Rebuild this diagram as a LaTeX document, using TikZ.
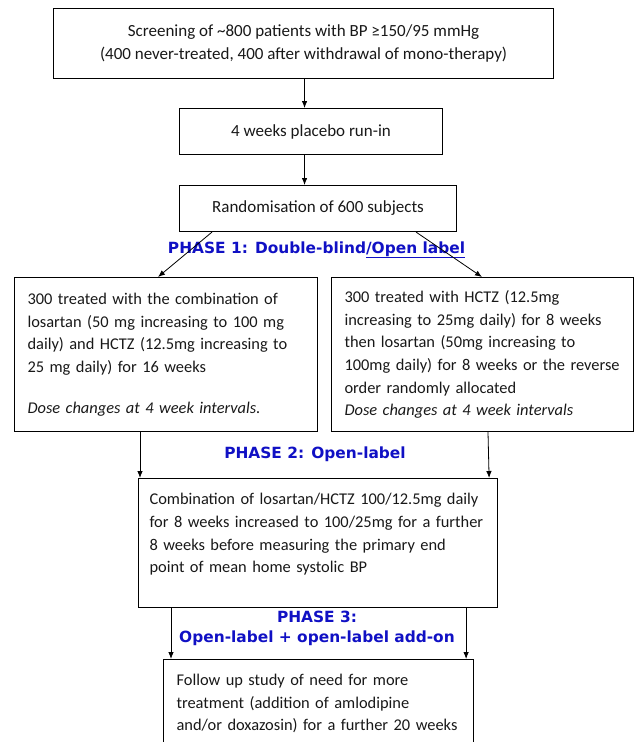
\documentclass[tikz,border=0pt]{standalone}
\usepackage{fontspec}
\setmainfont{Carlito}
\newfontfamily\phasefont{DejaVu Sans}
\usetikzlibrary{arrows.meta}
\usetikzlibrary{positioning}
\definecolor{phaseblue}{RGB}{16,16,196}
\definecolor{boxtext}{RGB}{24,24,24}
\tikzset{flow box/.style={draw,line width=1.1pt,anchor=north west,inner sep=0pt,font=\fontsize{17}{22.7}\selectfont,text=boxtext}}
\tikzset{text box/.style={flow box,align=left,inner xsep=13pt,font=\fontsize{16.4}{22.7}\selectfont}}
\tikzset{phase label/.style={font=\phasefont\bfseries\fontsize{15.4}{20}\selectfont,text=phaseblue,align=center}}
\tikzset{flow arrow/.style={draw,line width=0.8pt,-{Latex[length=7pt,width=5.5pt]}}}

\begin{document}
\begin{tikzpicture}[x=1pt,y=-1pt]
    \useasboundingbox (0,0) rectangle (635,742);
    	\node[flow box,minimum width=500pt,minimum height=70pt,align=center] (screen) at (53,8) {Screening of \textasciitilde800 patients with BP ≥150/95 mmHg\\(400 never-treated, 400 after withdrawal of mono-therapy)};
    	\node[flow box,minimum width=263pt,minimum height=46pt] (runin) at (179,108) {4 weeks placebo run-in};
    	\node[flow box,minimum width=277pt,minimum height=46pt] (rand) at (179,185) {Randomisation of 600 subjects};
    	\node[text box,text width=277pt,minimum height=154pt] (combined) at (14,277) {300 treated with the combination of\\losartan (50 mg increasing to 100 mg\\daily) and HCTZ (12.5mg increasing to\\25 mg daily) for 16 weeks\\[18pt]\textit{Dose changes at 4 week intervals.}};
    	\node[text box,text width=276pt,minimum height=154pt] (sequential) at (331,277) {300 treated with HCTZ (12.5mg\\increasing to 25mg daily) for 8 weeks\\then losartan (50mg increasing to\\100mg daily) for 8 weeks or the reverse\\order randomly allocated\\\textit{Dose changes at 4 week intervals}};
    	\node[text box,inner xsep=11pt,text width=337pt,minimum height=129pt,text depth=88pt] (openlabel) at (138,478) {Combination of losartan/HCTZ 100/12.5mg daily\\for 8 weeks increased to 100/25mg for a further\\8 weeks before measuring the primary end\\point of mean home systolic BP};
    	\node[text box,text width=284pt,minimum height=88pt] (followup) at (163,659) {Follow up study of need for more\\treatment (addition of amlodipine\\and/or doxazosin) for a further 20 weeks};
    
    	\node[phase label,anchor=base] (phaseone) at (316.5,253) {PHASE 1: Double-blind\underline{/Open label}};
    	\node[phase label,anchor=base] (phasetwo) at (315,458) {PHASE 2: Open-label};
    	\node[phase label] (phasethree) at (317,628) {PHASE 3:\\Open-label + open-label add-on};
    
    	\path
    	([xshift=1pt]screen.south) edge[flow arrow] ([xshift=1pt]screen.south |- runin.north)
    	([xshift=1pt]screen.south |- runin.south) edge[flow arrow] ([xshift=1pt]screen.south |- rand.north)
    	([xshift=33pt]rand.south west) edge[flow arrow] ([xshift=144pt]combined.north west)
    	([xshift=-41pt]rand.south east) edge[flow arrow] ([xshift=151pt]sequential.north west)
    	([xshift=126pt]combined.south west) edge[flow arrow] ([xshift=2pt]openlabel.north west)
    	([xshift=157pt]sequential.south west) edge[flow arrow] ([xshift=-9pt]openlabel.north east)
    	([xshift=33pt]openlabel.south west) edge[flow arrow] ([xshift=8pt]followup.north west)
    	([xshift=-32pt]openlabel.south east) edge[flow arrow] ([xshift=-8pt]followup.north east);
\end{tikzpicture}
\end{document}
